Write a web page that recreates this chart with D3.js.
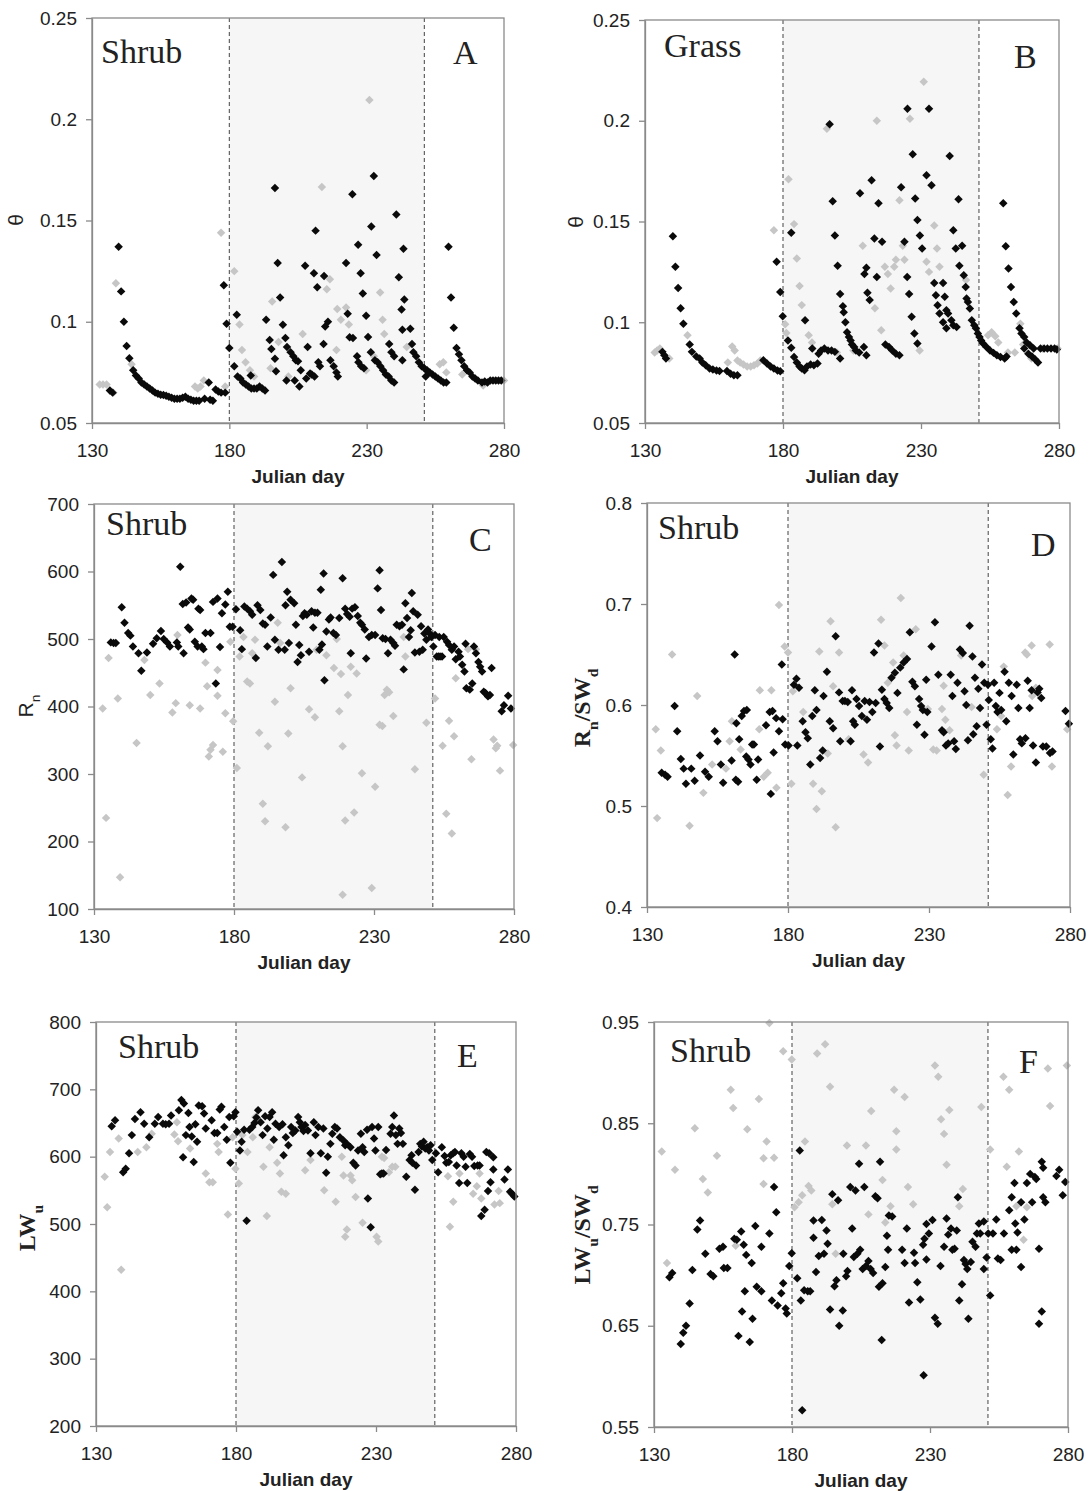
<!DOCTYPE html>
<html>
<head>
<meta charset="utf-8">
<script src="https://cdn.jsdelivr.net/npm/d3@7"></script>
<style>
  body { margin: 0; background: #fff; }
  svg text { font-family: "Liberation Sans", Arial, sans-serif; fill: #222; }
</style>
</head>
<body>
<svg id="fig" width="1090" height="1491"></svg>
<script>
// shared axis settings
const dayTicks = [130, 180, 230, 280];
const wetPeriod = [180, 251];
const thetaTicks = [0.05, 0.1, 0.15, 0.2, 0.25];
const rnTicks = [100, 200, 300, 400, 500, 600, 700];
const rnRatioTicks = [0.4, 0.5, 0.6, 0.7, 0.8];
const lwTicks = [200, 300, 400, 500, 600, 700, 800];
const lwRatioTicks = [0.55, 0.65, 0.75, 0.85, 0.95];

// A: soil moisture, shrub site  [julian day, value]
const thetaShrubBlack = [[136.5,.066],[137.5,.065],[139.7,.137],[140.6,.115],[141.6,.100],[142.6,.088],[143.6,.082],[145,.076],[146,.0735],[147,.072],[148,.070],[149,.069],[150,.068],[151,.067],[152,.066],[153,.065],[154,.0645],[155,.064],[156,.0638],[157,.0635],[158,.063],[159,.0625],[160,.062],[161,.062],[162,.062],[163,.0625],[164,.063],[165,.062],[166,.0615],[167,.061],[168,.061],[169,.061],[171,.062],[172.5,.070],[173,.0615],[174,.061],[175,.0665],[176,.0655],[177,.065],[178,.118],[179,.099],[180,.087],[178.5,.065],
  [181.8,.078],[182.7,.1035],[183,.073],[184,.072],[185,.070],[186,.069],[187,.068],[188,.067],[189,.067],[190,.067],[191,.068],[192,.067],[193,.066],[187.8,.0735],[193.4,.101],[194.7,.091],[195.3,.0865],[196.6,.166],[196.6,.0817],[197,.0756],[197.6,.129],[198.5,.112],[199.5,.0985],[200.4,.092],[201,.0875],[200.8,.071],[202.3,.085],[203.3,.083],[204.2,.081],[205,.0805],[203.8,.071],[205.5,.068],[206,.076],[207.6,.1277],[208.5,.0875],[209.4,.0745],[208,.072],[210,.074],[211,.073],[210.8,.124],[211.4,.145],[212,.117],[212.4,.080],[213,.078],[214.5,.1226],[214.9,.0976],[214.3,.089],[215.9,.100],[216.8,.081],[218,.078],[219,.075],[219.5,.073],
  [222.5,.129],[223.1,.104],[223.8,.0924],[225,.092],[224.8,.163],[226.9,.138],[227.8,.124],[228.6,.114],[229.8,.103],[230.5,.0925],[226.5,.083],[227,.080],[228,.078],[229,.077],[232.6,.172],[231.7,.147],[233.6,.133],[231.5,.085],[233,.081],[234,.080],[235,.078],[236,.076],[237,.074],[238,.073],[239,.071],[240,.070],[238.2,.089],[239,.085],[240,.083],[240.8,.153],[241.7,.122],[242.7,.106],[243.7,.111],[243.4,.136],[243,.096],[243,.081],[245.9,.0965],[246.5,.089],[247,.085],[248,.083],[249,.080],[250,.078],[251,.077],[252,.076],[253,.075],[254,.074],[251.5,.073],[252.5,.075],[255,.073],[256,.072],[257,.071],[258,.070],[259,.070],
  [259.8,.137],[260.7,.112],[261.7,.097],[262.7,.087],[263.6,.084],[264.5,.081],[265.5,.078],[266.5,.076],[267.5,.075],[268.5,.073],[269.5,.072],[270.5,.071],[272,.070],[273,.0705],[274,.070],[275,.071],[276,.071],[277,.071],[278,.071],[279,.071]];
const thetaShrubGrey = [[132.8,.069],[134,.069],[135.3,.069],[137.8,.065],[138.7,.119],[144.4,.079],[167.5,.068],[168.5,.067],[169.5,.068],[170.7,.071],[177,.144],[178.5,.068],[181.8,.125],[183.7,.0986],[184.6,.086],[185.9,.080],[187.5,.076],[189,.073],[195.6,.110],[197.9,.090],[195,.077],[201.5,.073],[206.7,.094],[213.7,.1666],[215.5,.116],[216.6,.121],[219.3,.1063],[220.6,.101],[219,.086],[223.5,.0986],[222.5,.107],[229.8,.076],[231,.2095],[232.6,.083],[234.9,.1145],[235.8,.101],[236.4,.094],[244.6,.0875],[256.6,.079],[257.9,.080],[259,.075],[264.8,.074],[272.4,.0685],[280,.071]];

// B: soil moisture, grass site
const thetaGrassBlack = [[136.3,.0853],[137,.0836],[137.6,.082],[140.1,.1427],[141,.1275],[142,.117],[142.9,.107],[143.9,.0993],[146.2,.089],[147,.0853],[148.6,.083],[149.8,.082],[150.8,.080],[152,.0787],[153.4,.077],[154.6,.0765],[155.9,.076],[157,.0758],[159.7,.0758],[161,.0745],[162.2,.0737],[163.5,.0737],[172.9,.0811],[174.2,.0795],[175.5,.078],[176.7,.077],[178,.076],[179,.0757],[177.7,.130],[179,.115],[179.9,.103],
  [183,.1444],[181.8,.091],[183,.0874],[184,.0828],[185,.080],[186,.078],[186.8,.077],[187.8,.0762],[188,.101],[188.7,.078],[190,.079],[191.2,.0786],[192.5,.0795],[190.6,.087],[192.9,.0844],[193.8,.086],[195,.087],[196.3,.086],[197.6,.086],[198.8,.0853],[200.7,.082],[196.9,.1983],[198,.160],[198.8,.143],[199.8,.128],[200.7,.114],[201.7,.108],[202,.105],[202.6,.100],[203.2,.095],[203.9,.0927],[204.5,.091],[205,.089],[205.8,.0877],[206.4,.086],[207.6,.085],[207.9,.164],[210.2,.127],[209.5,.124],[210.6,.1146],[211.4,.111],[212.1,.1705],[213.1,.1416],[214,.1225],[214.6,.159],[215.9,.140],[209.3,.0877],[210.2,.0836],
  [217.1,.089],[218.4,.0877],[219.6,.086],[220.9,.0844],[222.2,.0836],[222.8,.167],[224,.140],[225.1,.206],[225,.1225],[225.7,.114],[226.6,.1027],[227,.1834],[227.9,.1614],[228.7,.1507],[229.6,.143],[230.4,.1366],[227.6,.0944],[228.7,.0894],[232,.173],[232.9,.206],[233.8,.168],[234.8,.1195],[235.4,.1134],[236,.1084],[236.7,.1043],[238,.100],[239.2,.097],[238,.1195],[238.6,.1126],[239.2,.106],[239.8,.1043],[241,.101],[241.7,.0985],[242.9,.0977],[240.4,.1825],[241.7,.1457],[242.6,.1366],[243.6,.161],[243.9,.128],[244.9,.138],[245.5,.1233],[246.2,.1175],[246.5,.1118],[247,.110],[247.7,.1068],[248.4,.101],[249.3,.0985],[249.9,.097],[250.6,.0944],[251.2,.0927],[251.8,.091],[252.5,.0894],[253.7,.0877],[255,.086],[256.3,.0848],[257.5,.0836],[258.8,.0828],[260.3,.082],[261,.083],
  [259.8,.159],[260.7,.1377],[261.7,.1267],[262.6,.1175],[263.6,.110],[264.5,.1043],[265.7,.097],[266.4,.0944],[267.4,.0927],[268.3,.090],[269.5,.0886],[270.8,.087],[267.4,.087],[268.9,.0844],[270.2,.083],[271.4,.0815],[272.4,.080],[273.3,.087],[274.6,.087],[275.8,.087],[277.1,.087],[278.4,.087],[279.2,.0865]];
const thetaGrassGrey = [[133.5,.085],[134.4,.086],[135.4,.087],[138.8,.082],[145.4,.0935],[160,.080],[161.6,.088],[162.5,.086],[163.5,.081],[164.5,.080],[165.7,.079],[167,.078],[168.3,.078],[169.5,.0787],[170.7,.0795],[171.8,.081],[176.7,.1457],[180.8,.099],[181.2,.0947],[182,.171],[184,.1487],[185,.1316],[186,.118],[186.8,.1085],[189.3,.0935],[190.5,.090],[195.9,.196],[199.5,.085],[205.5,.086],[208.9,.138],[213.3,.107],[214,.200],[215.6,.096],[216.9,.1275],[218,.124],[219,.1167],[220.3,.1275],[220.9,.131],[222.2,.1606],[223.4,.138],[224,.131],[226,.201],[229.5,.086],[231,.2194],[232,.130],[232.9,.125],[234.8,.148],[235.8,.1366],[236.7,.1275],[246.3,.121],[254.3,.0935],[255.6,.095],[256.9,.093],[258,.090],[261.5,.085],[264,.085],[266,.0993],[267,.089],[270,.082],[274,.087],[279.5,.087]];

// C: net radiation, shrub
const rnBlack = [[136,495],[137,494],[137.8,494],[139.9,547],[140.9,524],[142.2,509],[143,505],[143.9,489],[145.9,479],[146.9,453],[148.9,480],[151.1,493],[152.4,501],[153.9,512],[154.9,500],[156.1,495],[157.1,489],[159.6,495],[160.1,489],[160.8,607],[161.7,552],[162,479],[162.9,554],[163.6,517],[164.2,514],[164.8,560],[165.4,558],[166,496],[167,489],[167.3,545],[167.9,543],[168.5,489],[169.1,485],[169.8,509],[171.6,509],[172.5,555],[173.5,434],[174.1,560],[175,488],[175.7,538],[176.9,551],[177.8,570],[178.5,518],[179.5,518],
  [180.7,544],[182.2,513],[182.8,485],[183.7,548],[184.7,545],[185.7,541],[186.5,536],[187.8,472],[188.4,550],[189.4,543],[190.3,523],[191.1,521],[191.9,489],[193.1,532],[194,595],[194.6,499],[195.9,484],[197.1,614],[198.1,484],[198.4,550],[199,570],[199.6,494],[200.2,558],[201.5,553],[202.1,521],[202.7,466],[203.3,491],[203.9,476],[204.6,534],[205.2,538],[206,536],[206.8,481],[207.7,541],[208.3,517],[208.9,539],[209.8,539],[210.5,484],[211,573],[211.4,492],[212,597],[212.3,439],[213,511],[213.9,529],[214.5,532],[215.5,509],[216.4,506],[217.6,531],[218.8,590],[219.7,545],[220.4,537],[221.3,533],[221.7,479],[222.2,545],[223.2,547],[224.2,534],[225.1,524],[225.7,521],[226.7,514],[227.2,471],[228.2,503],[229.2,506],[230.4,506],[231.3,575],[232,602],[232.5,543],[233.1,501],[234.1,500],[235,479],[235.9,499],[236.9,494],[237.5,490],[238.1,521],[239.1,519],[240,521],[240.6,455],[241.2,553],[241.8,531],[242.5,503],[243.1,513],[243.5,568],[244,541],[244.6,480],[245.6,536],[246.2,481],[246.8,519],[247.4,484],[248,508],[248.7,499],[249.3,514],[249.9,508],[250.5,503],
  [251.2,489],[251.8,506],[252.4,474],[253,474],[253.6,474],[254.3,474],[253.3,503],[254.9,503],[256.1,496],[256.8,491],[257.8,484],[258.6,489],[259.2,470],[260.2,481],[260.7,474],[261.5,462],[262.3,452],[262.7,493],[263,427],[264.2,425],[265.1,434],[265.7,489],[266.4,479],[267.3,466],[267.9,459],[268.6,452],[269.2,422],[269.8,420],[270.7,415],[271.4,417],[272,457],[275.6,393],[276.4,402],[277.9,416],[278.9,397]];
const rnGrey = [[133.1,397],[134.3,235],[135.2,472],[138.5,412],[139.3,147],[145.2,346],[148,469],[150.1,417],[153.4,434],[158,391],[159.2,405],[159.8,506],[164.2,402],[167.9,397],[169.8,465],[170.4,430],[171,326],[171.6,336],[172.5,343],[174.1,454],[174.1,416],[176,333],[176.9,390],[178.7,496],[179.7,378],[181,309],[182,474],[183.4,503],[184.7,437],[185.7,434],[186.5,479],[187.5,499],[189,361],[190.3,256],[191.1,230],[192.1,341],[194.6,407],[195.6,524],[196.5,494],[198.4,221],[199.4,360],[200.2,427],[204.3,295],[206.8,396],[208.9,384],[209.5,484],[213,476],[215.7,457],[216.7,500],[217.6,393],[218.2,448],[218.8,341],[218.8,121],[219.7,231],[220.7,417],[221.7,459],[222.9,243],[223.8,449],[225.7,301],[229.2,131],[230.4,281],[232,373],[233,371],[233.8,417],[234.6,425],[235.4,421],[236.9,386],[240.6,503],[241.2,474],[244.6,307],[248.7,376],[251.8,412],[254.5,342],[255.8,241],[256.8,379],[257.8,212],[258.6,356],[259.2,442],[263.6,485],[264.8,322],[266.4,485],[272.7,351],[273.5,338],[274,342],[275,305],[279.7,343]];

// D: Rn / SWd, shrub
const rnRatioBlack = [[135.2,.533],[136.4,.531],[137.3,.529],[139.8,.599],[140.7,.574],[142,.5465],[143,.537],[143.8,.522],[145.7,.537],[146.9,.525],[148.8,.550],[150.6,.534],[151.9,.529],[154,.574],[155,.564],[156.2,.541],[157,.523],[160,.545],[161.1,.650],[161.5,.526],[162.3,.524],[161.7,.582],[162.7,.566],[163.6,.589],[164.4,.594],[165.2,.549],[165.4,.595],[166,.546],[166.7,.541],[167.3,.561],[167.9,.561],[168.9,.526],[169.4,.546],[172.2,.580],[173.5,.593],[173.9,.512],[174.5,.594],[174.9,.553],[175.8,.587],[176.8,.574],[177.8,.640],[178.1,.586],[179,.561],
  [180.2,.560],[182.1,.620],[183,.626],[183.3,.560],[183.9,.617],[185.2,.584],[186.2,.573],[187,.567],[187.9,.541],[188.6,.589],[189.5,.6145],[190.1,.595],[191.4,.5475],[192.3,.555],[192.6,.609],[193.8,.633],[194.8,.584],[196,.577],[196.9,.668],[198.1,.6125],[198.5,.564],[199.4,.604],[200.2,.604],[201.2,.603],[202.2,.564],[202.7,.6145],[203.1,.584],[203.7,.5805],[204.3,.606],[205.2,.599],[206.2,.589],[207.2,.604],[208,.5855],[208.9,.603],[209.9,.593],[210.5,.652],[211.1,.602],[212.1,.661],[212.6,.559],[213.3,.615],[214.2,.606],[215,.602],[215.9,.597],[216.7,.627],[217.9,.632],[218.8,.612],[219.8,.637],[221,.642],[222.2,.6455],[223.2,.672],[224.1,.623],[225,.6185],[225.7,.5805],[226.5,.606],[227.2,.599],[227.8,.595],[228.4,.5706],[229,.625],[229.4,.593],[230.9,.658],[232.1,.682],[233.3,.630],[234.6,.575],[235.2,.573],[236,.560],[236.8,.562],[237.7,.630],[238.3,.609],[238.9,.564],[239.5,.5565],[240.1,.622],[241,.655],[242,.6515],[242.6,.6135],[243.2,.600],[243.8,.565],[244.4,.6785],[245.4,.648],[245.7,.571],[246.3,.627],[246.9,.579],[247.5,.616],[248.1,.597],[248.8,.640],[249.6,.622],[250.4,.5805],
  [250.9,.620],[251.2,.605],[251.9,.566],[252.5,.557],[253.1,.622],[253.7,.599],[254.3,.593],[255,.612],[255.6,.595],[256.8,.633],[257.4,.584],[258.3,.622],[259.3,.609],[259.9,.551],[261.1,.620],[261.7,.597],[262.3,.566],[262.9,.562],[264.2,.567],[265,.624],[265.7,.597],[266.4,.6145],[266.9,.560],[267.9,.543],[268.5,.6125],[269.1,.616],[269.8,.607],[270.4,.559],[271.6,.559],[272.9,.5525],[273.8,.554],[278.4,.594],[279.6,.5815]];
const rnRatioGrey = [[133.1,.576],[133.6,.488],[134.9,.555],[138.9,.650],[145.1,.4805],[147.8,.609],[150,.513],[153.1,.541],[158,.537],[159.3,.564],[160.1,.584],[163.2,.556],[169.8,.576],[170,.6145],[171.4,.529],[172.8,.533],[174.1,.6145],[175.9,.518],[176.8,.699],[178.8,.658],[180,.652],[181.2,.522],[181.7,.6135],[185.4,.593],[188.9,.522],[190.1,.497],[191.1,.653],[192,.5145],[194.1,.552],[195.1,.683],[196,.6185],[196.9,.479],[198.1,.652],[201.5,.566],[206.8,.551],[208.4,.543],[213,.6845],[214.2,.659],[215.4,.622],[217.3,.642],[217.9,.570],[218.5,.560],[220,.706],[221,.649],[222.2,.593],[222.8,.555],[225.3,.675],[229.6,.596],[231.5,.556],[232.7,.555],[234.6,.596],[235.2,.619],[235.8,.5855],[237.3,.575],[241.4,.649],[245.1,.598],[249.4,.531],[254.1,.576],[255.6,.589],[256.5,.638],[257.9,.511],[259.1,.539],[264.1,.652],[264.7,.650],[266.4,.659],[266.6,.609],[267.9,.617],[272.8,.660],[273.6,.539],[279,.576]];

// E: upward longwave, shrub
const lwBlack = [[135.6,645],[136.8,654],[139.7,577],[140.6,582],[141.8,605],[142.8,632],[143.9,656],[145.9,666],[147.2,649],[149,629],[151,649],[152.2,659],[153.9,649],[154.9,648],[156.1,649],[156.8,661],[159.6,669],[160.5,684],[161.4,679],[161.1,599],[162.1,632],[163,665],[163.4,644],[164.2,630],[164.9,592],[165.5,648],[166.1,622],[166.7,676],[167.9,675],[168.6,664],[169.2,642],[171.3,654],[172.3,635],[173.3,635],[174.2,670],[174.8,674],[175.8,644],[176.7,625],[177.6,659],[178,591],[179.2,660],[179.8,666],
  [180.4,637],[181.4,609],[182,622],[182.9,640],[183.8,505],[184.8,640],[185.8,644],[186.6,650],[187.3,658],[187.9,669],[188.8,651],[189.5,632],[190.4,660],[191.2,642],[192,659],[192.9,666],[193.5,625],[194.1,649],[195.4,644],[196.6,648],[197,602],[197.8,629],[198.7,617],[199.7,644],[200.3,635],[201.2,639],[202.2,659],[202.8,651],[203.4,644],[204.1,638],[204.7,647],[205.7,639],[206.6,605],[207.8,651],[208.4,632],[209.4,644],[210.3,605],[211.2,642],[212.2,576],[212.8,600],[213.7,619],[214.4,634],[215.3,644],[216.1,642],[217.1,629],[218.4,624],[219,617],[219.6,619],[220.9,614],[221.9,591],[222.7,587],[223.6,609],[224.6,634],[225.2,614],[225.8,607],[226.8,640],[227.1,538],[228.1,495],[228.6,644],[229.3,627],[229.8,609],[230.8,644],[231.5,574],[232.1,575],[232.7,575],[233.6,610],[235.2,634],[235.8,644],[236.4,661],[237.1,632],[237.7,619],[238.3,642],[238.9,635],[239.6,619],[240.8,570],[242,595],[242.7,602],[243,591],[243.9,551],[244.3,587],[245.2,607],[245.8,619],[246.4,615],[247,622],[247.6,612],[248.3,614],[248.9,609],[249.5,617],[250.1,595],
  [251.4,605],[252.2,577],[253.5,614],[254.5,601],[255.1,591],[256,592],[256.7,602],[257.6,605],[258.2,607],[258.8,587],[259.7,561],[260.5,605],[261.3,600],[262,585],[262.6,561],[263.5,604],[264.3,600],[265.1,586],[266.3,587],[267,587],[267.6,512],[268.8,521],[269.4,607],[270,549],[270.4,605],[270.9,562],[271.9,599],[271.9,581],[275.9,566],[277.1,581],[277.9,548],[278.8,544],[279.4,541]];
const lwGrey = [[133.1,570],[134,525],[135,607],[138.1,627],[139,432],[144.9,607],[148,614],[149.9,634],[158,633],[158.9,651],[159.3,623],[163.6,612],[169.2,575],[170.5,562],[171.7,562],[173.3,619],[173.8,607],[177.1,514],[178.8,629],[179.8,582],[181,560],[182.3,632],[184.1,607],[186,629],[186.9,659],[189.8,585],[191,512],[192,614],[194.7,591],[195.7,575],[196.2,548],[197.8,545],[204.7,580],[206.6,595],[211.5,550],[215.6,533],[217.8,600],[218.4,572],[219,481],[219.6,492],[220.9,572],[221.5,565],[222.7,540],[225.2,502],[230.2,481],[230.8,474],[232.1,600],[232.9,598],[234.6,577],[235.8,585],[236.9,585],[255.7,571],[256.4,496],[257.6,533],[259.8,575],[264.7,545],[266,556],[267,575],[267.6,538],[272.3,529],[273.8,549],[274.2,531],[278.1,546]];

// F: LWu / SWd, shrub
const lwRatioBlack = [[135.6,.698],[136.6,.702],[139.7,.632],[140.6,.643],[141.6,.650],[142.9,.672],[143.9,.705],[145.7,.745],[146.7,.754],[148.6,.721],[150.5,.701],[151.5,.699],[153.7,.726],[155,.728],[155.3,.707],[156.6,.707],[159.1,.736],[160,.735],[160.6,.640],[161.6,.743],[161.9,.664],[162.5,.730],[162.9,.684],[163.4,.720],[164.7,.634],[165.4,.712],[165.7,.657],[166.7,.7485],[167.2,.6885],[168.9,.684],[168.9,.728],[171.8,.741],[172.7,.675],[173.5,.787],[174.3,.762],[174.8,.670],[176.1,.682],[176.8,.692],[177.7,.667],[178.1,.662],[179,.709],[179.9,.7215],
  [181.9,.697],[182.8,.823],[183.2,.675],[183.7,.5665],[184.4,.685],[185.7,.684],[186.6,.684],[187.8,.754],[187.8,.737],[188.7,.703],[189.7,.719],[190.8,.7545],[191.6,.721],[192.5,.744],[192.9,.731],[193.8,.666],[194.6,.780],[195.4,.689],[196.1,.695],[196.7,.774],[197.1,.650],[198.4,.665],[198.6,.721],[199.6,.699],[200.1,.704],[201.1,.787],[201.8,.746],[202.4,.718],[203,.7835],[203.7,.721],[204.3,.810],[204.7,.725],[205.6,.706],[206.2,.787],[206.8,.709],[207.7,.714],[208.5,.706],[209.4,.702],[210.2,.778],[211,.776],[211.5,.6885],[211.9,.812],[212.5,.636],[212.8,.692],[213.8,.708],[214.4,.739],[214.8,.725],[215.1,.759],[216.3,.758],[219.9,.725],[220.8,.712],[221.6,.746],[222.4,.673],[224.2,.722],[224.6,.712],[225.4,.693],[226.5,.676],[227.5,.730],[228,.736],[228.7,.7505],[229.6,.741],[227.7,.601],[228.7,.7155],[230.9,.7545],[231.8,.658],[232.8,.652],[233.8,.709],[235.1,.728],[236,.756],[236.6,.740],[237.6,.746],[238.1,.725],[238.9,.726],[239.7,.744],[240.1,.777],[240.6,.675],[241.6,.691],[242.3,.715],[242.9,.711],[243.5,.706],[243.9,.657],[244.8,.713],[245.4,.733],[246.5,.728],[247,.741],[247.7,.751],[248.2,.741],[249.5,.753],[249.5,.706],[250.5,.7175],
  [251.1,.741],[251.8,.680],[252.8,.741],[254,.755],[254.6,.7165],[255.6,.715],[256.8,.741],[258.7,.764],[259.6,.777],[260.6,.791],[259.6,.725],[260.9,.751],[261.3,.725],[261.7,.742],[263,.708],[263,.772],[264.2,.755],[265.1,.791],[266.3,.800],[267,.772],[268,.797],[268.5,.795],[269.5,.726],[269.5,.652],[270.5,.664],[271,.777],[271.8,.772],[270.5,.812],[271,.806],[275.8,.798],[276.8,.804],[278.1,.779],[279,.792]];
const lwRatioGrey = [[132.8,.822],[134.7,.712],[137.6,.804],[144.8,.845],[147.7,.795],[149.5,.7815],[152.8,.818],[157.8,.883],[158.7,.865],[159.6,.729],[163.8,.844],[168,.874],[169.7,.790],[169.7,.8155],[170.8,.832],[171.8,.949],[173.5,.816],[176.8,.921],[179.9,.913],[180.9,.767],[182.4,.772],[183.7,.779],[184.7,.832],[186,.788],[187,.7835],[189.1,.919],[192,.928],[193.8,.886],[194.6,.770],[195.8,.721],[199.9,.828],[206.8,.828],[207.7,.760],[208.7,.862],[212.8,.794],[213.8,.752],[215.7,.768],[217,.883],[217.8,.842],[217.8,.824],[220.8,.876],[222,.787],[223.9,.770],[231.8,.907],[233,.896],[234,.854],[235.1,.8395],[236,.809],[237,.863],[240.6,.768],[241.9,.785],[248.6,.866],[251.8,.824],[256.6,.896],[257.8,.807],[258.7,.883],[261.3,.768],[262.2,.822],[263.9,.735],[265.1,.767],[272.7,.904],[273.5,.867],[279.6,.907]];

// panel layout (page pixels)
const panels = [
  { x0: 92,  x1: 504,  y0: 18,   y1: 423,  ticks: thetaTicks,   black: thetaShrubBlack, grey: thetaShrubGrey,
    site: "Shrub", siteXY: [101, 63],  letter: "A", letterXY: [453, 64],
    ylab: [{ t: "θ" }], ylabFont: "sans", ylabXY: [16, 220] },
  { x0: 645, x1: 1059, y0: 20,   y1: 423,  ticks: thetaTicks,   black: thetaGrassBlack, grey: thetaGrassGrey,
    site: "Grass", siteXY: [664, 57],  letter: "B", letterXY: [1014, 68],
    ylab: [{ t: "θ" }], ylabFont: "sans", ylabXY: [576, 222] },
  { x0: 94,  x1: 514,  y0: 504,  y1: 909,  ticks: rnTicks,      black: rnBlack, grey: rnGrey,
    site: "Shrub", siteXY: [106, 535], letter: "C", letterXY: [469, 551],
    ylab: [{ t: "R" }, { t: "n", sub: true }], ylabFont: "sans", ylabXY: [26, 706] },
  { x0: 647, x1: 1070, y0: 503,  y1: 907,  ticks: rnRatioTicks, black: rnRatioBlack, grey: rnRatioGrey,
    site: "Shrub", siteXY: [658, 539], letter: "D", letterXY: [1031, 556],
    ylab: [{ t: "R" }, { t: "n", sub: true }, { t: "/SW" }, { t: "d", sub: true }], ylabFont: "serif", ylabXY: [582, 708] },
  { x0: 96,  x1: 516,  y0: 1022, y1: 1426, ticks: lwTicks,      black: lwBlack, grey: lwGrey,
    site: "Shrub", siteXY: [118, 1058], letter: "E", letterXY: [457, 1067],
    ylab: [{ t: "LW" }, { t: "u", sub: true }], ylabFont: "serif", ylabXY: [27, 1228] },
  { x0: 654, x1: 1068, y0: 1022, y1: 1427, ticks: lwRatioTicks, black: lwRatioBlack, grey: lwRatioGrey,
    site: "Shrub", siteXY: [670, 1062], letter: "F", letterXY: [1019, 1073],
    ylab: [{ t: "LW" }, { t: "u", sub: true }, { t: "/SW" }, { t: "d", sub: true }], ylabFont: "serif", ylabXY: [582, 1235] }
];

const svg = d3.select("#fig");
const axisGrey = "#8a8a8a";
const diamond = d3.symbol().type(d3.symbolSquare).size(36);

panels.forEach(p => {
  const x = d3.scaleLinear().domain([130, 280]).range([p.x0, p.x1]);
  const y = d3.scaleLinear().domain(d3.extent(p.ticks)).range([p.y1, p.y0]);
  const g = svg.append("g");

  // wet season shading and its bounds
  g.append("rect")
    .attr("x", x(wetPeriod[0])).attr("y", p.y0)
    .attr("width", x(wetPeriod[1]) - x(wetPeriod[0])).attr("height", p.y1 - p.y0)
    .attr("fill", "#f6f6f6");
  g.selectAll(".wet-line").data(wetPeriod).enter().append("line")
    .attr("x1", d => x(d)).attr("x2", d => x(d))
    .attr("y1", p.y0).attr("y2", p.y1)
    .attr("stroke", "#555").attr("stroke-width", 1.1).attr("stroke-dasharray", "4,3");

  // grey series first, black on top
  [[p.grey, "#c6c6c6"], [p.black, "#0a0a0a"]].forEach(([pts, col]) => {
    g.append("g").selectAll("path").data(pts).enter().append("path")
      .attr("d", diamond)
      .attr("transform", d => `translate(${x(d[0])},${y(d[1])}) rotate(45)`)
      .attr("fill", col);
  });

  // frame
  g.append("rect")
    .attr("x", p.x0).attr("y", p.y0)
    .attr("width", p.x1 - p.x0).attr("height", p.y1 - p.y0)
    .attr("fill", "none").attr("stroke", axisGrey).attr("stroke-width", 1.3);

  const yAxis = g.append("g")
    .attr("transform", `translate(${p.x0},0)`)
    .call(d3.axisLeft(y).tickValues(p.ticks).tickFormat(d3.format("~g"))
      .tickSize(6).tickSizeOuter(0).tickPadding(9));
  const xAxis = g.append("g")
    .attr("transform", `translate(0,${p.y1})`)
    .call(d3.axisBottom(x).tickValues(dayTicks).tickSize(6).tickSizeOuter(0).tickPadding(15));
  [yAxis, xAxis].forEach(a => {
    a.select(".domain").attr("stroke", axisGrey).attr("stroke-width", 1.3);
    a.selectAll(".tick line").attr("stroke", axisGrey).attr("stroke-width", 1.3);
    a.selectAll(".tick text").attr("font-size", 19).attr("font-family", "Liberation Sans, Arial, sans-serif").attr("fill", "#222");
  });

  g.append("text")
    .attr("x", (p.x0 + p.x1) / 2).attr("y", p.y1 + 60)
    .attr("text-anchor", "middle").attr("font-weight", "bold").attr("font-size", 19)
    .text("Julian day");

  g.append("text")
    .attr("x", p.siteXY[0]).attr("y", p.siteXY[1])
    .style("font-family", "'Liberation Serif', 'Times New Roman', serif").attr("font-size", 34)
    .text(p.site);
  g.append("text")
    .attr("x", p.letterXY[0]).attr("y", p.letterXY[1])
    .style("font-family", "'Liberation Serif', 'Times New Roman', serif").attr("font-size", 34)
    .text(p.letter);

  // rotated y label with subscripts
  const serif = p.ylabFont === "serif";
  const fs = serif ? 24 : 21;
  const lab = g.append("text")
    .attr("transform", `translate(${p.ylabXY[0]},${p.ylabXY[1]}) rotate(-90)`)
    .attr("text-anchor", "middle").attr("dy", "0.35em")
    .attr("font-size", fs)
    .attr("font-weight", serif ? "bold" : "normal");
  if (serif) lab.style("font-family", "'Liberation Serif', 'Times New Roman', serif");
  let shifted = false;
  p.ylab.forEach(part => {
    const ts = lab.append("tspan").text(part.t);
    if (part.sub) { ts.attr("font-size", fs * 0.65).attr("dy", fs * 0.3); shifted = true; }
    else if (shifted) { ts.attr("dy", -fs * 0.3); shifted = false; }
  });
});
</script>
</body>
</html>
